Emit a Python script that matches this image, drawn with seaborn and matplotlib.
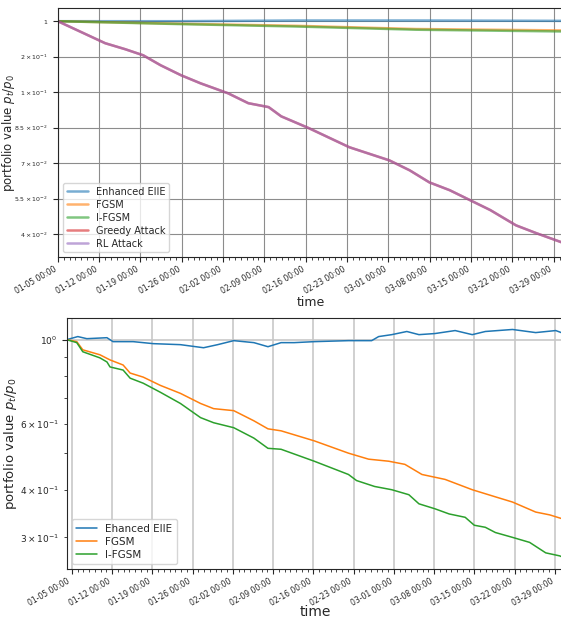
import matplotlib
matplotlib.use('Agg')
import matplotlib.pyplot as plt
import matplotlib.dates as mdates
import seaborn as sns
import pandas as pd

sns.set_style("ticks")
plt.rcParams['font.family'] = ['DejaVu Sans']

# ---------------- data (day offsets from 2020-01-05 00:00) ----------------
start = pd.Timestamp('2020-01-05 00:00')

# top panel
top_days_flat = [0, 20.2, 40.5, 60.7, 85.72]
top_enhanced = [1.000, 1.000, 1.002, 1.002, 1.001]
top_fgsm = [1.000, 0.993, 0.987, 0.978, 0.974]
top_ifgsm = [1.000, 0.992, 0.985, 0.976, 0.971]

top_days_attack = [0, 8.03, 11.44, 14.47, 17.41, 20.85, 24.19, 28.84, 32.28, 35.72, 37.85,
                   42.50, 49.39, 56.17, 59.61, 62.95, 66.39, 69.83, 73.27, 77.62, 81.06, 85.72]
top_greedy = [1.000, 0.938, 0.921, 0.904, 0.876, 0.848, 0.825, 0.797, 0.769, 0.758, 0.732,
              0.699, 0.645, 0.608, 0.580, 0.546, 0.524, 0.496, 0.468, 0.425, 0.403, 0.375]
top_rl = [1.000, 0.938, 0.921, 0.904, 0.876, 0.848, 0.825, 0.797, 0.769, 0.758, 0.732,
          0.699, 0.645, 0.608, 0.580, 0.546, 0.524, 0.496, 0.468, 0.425, 0.403, 0.375]

top_ticks = [1.0, 0.9, 0.8, 0.7, 0.6, 0.5, 0.4]
top_tick_labels = [r'$\mathdefault{1}$', r'$\mathdefault{2\times10^{-1}}$',
                   r'$\mathdefault{1\times10^{-1}}$', r'$\mathdefault{8.5\times10^{-2}}$',
                   r'$\mathdefault{7\times10^{-2}}$', r'$\mathdefault{5.5\times10^{-2}}$',
                   r'$\mathdefault{4\times10^{-2}}$']

# bottom panel
bot_days_enh = [-0.87, 1.05, 2.62, 6.12, 7.17, 10.68, 14.18, 18.90, 22.92, 25.37, 28.17,
                31.68, 34.12, 36.40, 38.68, 42.17, 48.12, 52.15, 53.37, 55.65, 58.27,
                60.38, 63.17, 66.67, 69.65, 71.92, 76.65, 80.68, 84.17, 85.57]
bot_enhanced = [1.000, 1.019, 1.006, 1.012, 0.988, 0.988, 0.976, 0.970, 0.952, 0.970, 0.994,
                0.982, 0.958, 0.982, 0.982, 0.988, 0.994, 0.994, 1.019, 1.031, 1.051,
                1.031, 1.038, 1.057, 1.031, 1.051, 1.064, 1.044, 1.057, 1.038]

bot_days_fgsm = [-0.87, 0.87, 1.92, 4.90, 6.65, 8.93, 10.15, 12.43, 15.40, 18.90, 22.40,
                 24.67, 28.17, 31.68, 34.12, 36.40, 42.17, 48.12, 51.62, 55.12, 57.93,
                 60.90, 64.92, 69.65, 73.67, 76.65, 80.68, 83.13, 85.57]
bot_fgsm = [1.000, 0.988, 0.940, 0.912, 0.884, 0.857, 0.816, 0.796, 0.757, 0.721, 0.678,
            0.657, 0.649, 0.610, 0.581, 0.574, 0.540, 0.501, 0.483, 0.477, 0.468,
            0.440, 0.427, 0.401, 0.384, 0.372, 0.350, 0.344, 0.335]

bot_days_ifgsm = [-0.87, 0.87, 1.92, 4.90, 6.12, 6.65, 8.93, 10.15, 12.43, 15.40, 18.90,
                  22.40, 24.67, 28.17, 31.68, 34.12, 36.40, 42.17, 48.12, 49.53, 52.67,
                  55.65, 58.62, 60.38, 63.17, 65.63, 68.42, 70.00, 71.92, 73.67, 76.65,
                  79.62, 82.43, 84.87, 85.57]
bot_ifgsm = [1.000, 0.982, 0.929, 0.895, 0.873, 0.847, 0.831, 0.791, 0.767, 0.726, 0.678,
             0.622, 0.603, 0.585, 0.549, 0.516, 0.513, 0.477, 0.440, 0.424, 0.409,
             0.401, 0.389, 0.368, 0.357, 0.346, 0.339, 0.323, 0.319, 0.309, 0.300,
             0.291, 0.273, 0.268, 0.265]


def to_frame(series):
    rows = []
    for name, days, vals in series:
        for d, v in zip(days, vals):
            rows.append({'time': start + pd.Timedelta(days=d), 'value': v, 'strategy': name})
    return pd.DataFrame(rows)


top_df = to_frame([
    ('Enhanced EIIE', top_days_flat, top_enhanced),
    ('FGSM', top_days_flat, top_fgsm),
    ('I-FGSM', top_days_flat, top_ifgsm),
    ('Greedy Attack', top_days_attack, top_greedy),
    ('RL Attack', top_days_attack, top_rl),
])
bot_df = to_frame([
    ('Ehanced EIIE', bot_days_enh, bot_enhanced),
    ('FGSM', bot_days_fgsm, bot_fgsm),
    ('I-FGSM', bot_days_ifgsm, bot_ifgsm),
])

tab = sns.color_palette('tab10')
fig = plt.figure(figsize=(5.61, 6.2), dpi=100)
ax1 = fig.add_axes([0.103, 0.585, 0.902, 0.402])
ax2 = fig.add_axes([0.119, 0.082, 0.886, 0.405])


def style_dates(ax, size):
    ax.xaxis.set_major_locator(mdates.WeekdayLocator(byweekday=mdates.SU))
    ax.xaxis.set_minor_locator(mdates.DayLocator())
    ax.xaxis.set_major_formatter(mdates.DateFormatter('%m-%d %H:%M'))
    ax.tick_params(axis='x', which='major', length=3.5, pad=2)
    ax.tick_params(axis='x', which='minor', length=2)
    for lab in ax.get_xticklabels():
        lab.set_rotation(30)
        lab.set_ha('right')
        lab.set_fontsize(size)


# ============ top panel ============
sns.lineplot(data=top_df, x='time', y='value', hue='strategy', ax=ax1,
             palette=[tab[0], tab[1], tab[2], tab[3], tab[4]], linewidth=1.8, alpha=0.6)
ax1.set_xlim(top_df['time'].min(), top_df['time'].max())
ax1.set_ylim(0.335, 1.037)
ax1.set_yticks(top_ticks)
ax1.set_yticklabels(top_tick_labels, fontsize=4.5)
ax1.grid(True, color='#8c8c8c', linewidth=0.8)
style_dates(ax1, 5.5)
ax1.set_xlabel('time', fontsize=9, labelpad=0)
ax1.set_ylabel(r'portfolio value $p_t/p_0$', fontsize=8.5)
ax1.yaxis.set_label_coords(-0.081, 0.5)
ax1.legend(loc='lower left', fontsize=7, title=None, handlelength=2.2, labelspacing=0.3)

# ============ bottom panel ============
sns.lineplot(data=bot_df, x='time', y='value', hue='strategy', ax=ax2,
             palette=[tab[0], tab[1], tab[2]], linewidth=1.1)
ax2.set_yscale('log')
ax2.set_xlim(bot_df['time'].min(), bot_df['time'].max())
ax2.grid(True, color='#c8c8c8', linewidth=1.2)
style_dates(ax2, 5.5)
ax2.tick_params(axis='y', which='both', labelsize=6.5)
ax2.set_xlabel('time', fontsize=10, labelpad=-2)
ax2.set_ylabel(r'portfolio value $p_t/p_0$', fontsize=9.5)
ax2.yaxis.set_label_coords(-0.097, 0.5)
ax2.legend(loc='lower left', fontsize=7.5, title=None, labelspacing=0.3)

plt.savefig('out.png', dpi=100)
plt.close()
